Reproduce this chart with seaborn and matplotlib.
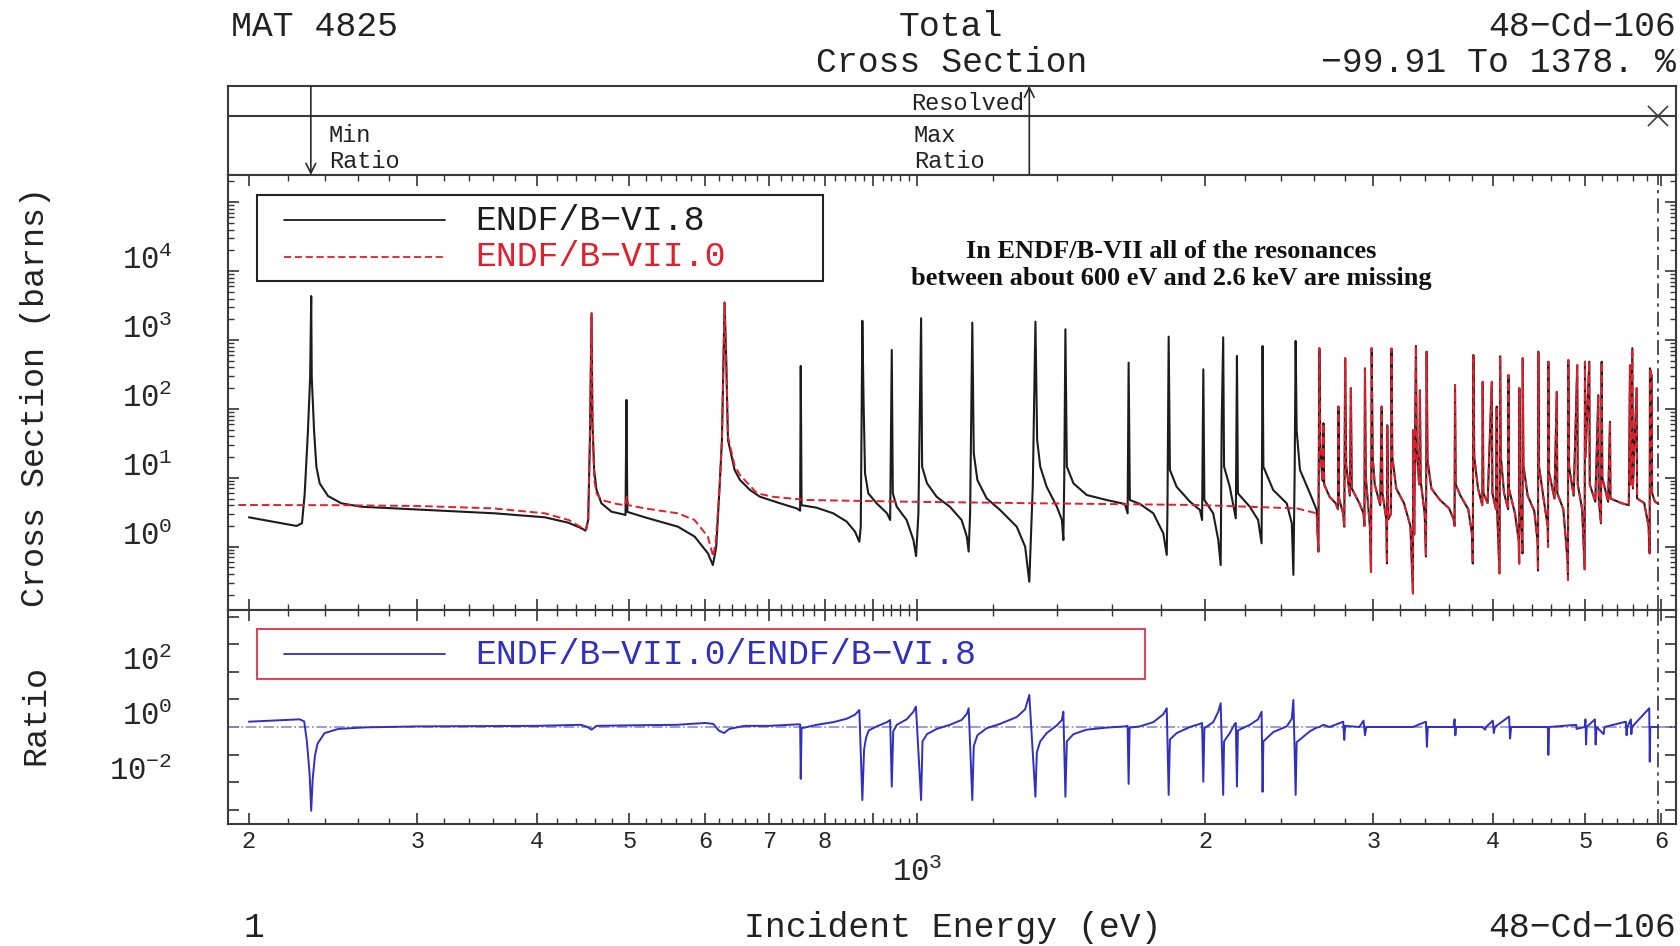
import matplotlib
matplotlib.use("Agg")
import matplotlib.pyplot as plt
import matplotlib.transforms as mtransforms
import seaborn as sns
from matplotlib.patches import Rectangle
from matplotlib.ticker import FixedLocator, NullFormatter, NullLocator, LogLocator

# ------------------------------------------------------------
# Values (energy in eV)
# ------------------------------------------------------------
# ENDF/B-VI.8 total cross section (barns), 200 eV - 2.6 keV
VI8_LOW = [(200, 2.67), (224.3, 2.0), (227.3, 2.19), (228.8, 5.96), (230.6, 49), (231.8, 290),
           (232.4, 4350), (232.7, 290), (234.0, 49), (235.3, 14.5), (237.2, 8.3), (242.0, 5.44),
           (249.9, 4.26), (262.3, 3.8), (308, 3.41), (361.6, 3.05), (408, 2.67), (431.6, 2.23),
           (445.6, 1.85), (449.9, 1.71), (452.8, 2.44), (454.7, 35), (456.5, 2440), (457.5, 62),
           (459.4, 13), (462, 6.65), (467.5, 4.26), (478.9, 3.22), (492.6, 2.95), (495.4, 2.88),
           (496.5, 135), (497.6, 3.2), (519, 2.67), (562.1, 1.95), (585.2, 1.4), (604.2, 0.8),
           (611.4, 0.54), (616.4, 1.0), (621.4, 7.4), (624.9, 35.5), (628.9, 3480), (631.4, 512),
           (634, 35.5), (644.3, 13), (652.6, 9.3), (669, 6.6)]

VI8_MID = [(685, 5.3), (719, 4.26), (748, 3.6), (754.4, 3.33), (755.5, 420), (757, 4.0), (785, 3.68),
           (817, 3.05), (844, 2.31), (861, 1.65), (870, 1.18), (873, 1.95), (876.3, 1900), (879, 120),
           (882, 11.6), (889, 5.95), (907, 4.26), (930, 3.05), (937, 2.44), (940.7, 716), (943, 5.95),
           (952, 3.8), (975, 2.44), (991, 1.25), (997.4, 0.73), (1003, 3.05), (1009.5, 2065),
           (1012, 14.5), (1024, 8.3), (1048, 5.3), (1082, 3.8), (1113, 2.44), (1127, 1.4),
           (1132, 0.85), (1136, 3.05), (1142, 1783), (1146, 22.7), (1156, 9.3), (1182, 5.04),
           (1221, 3.41), (1271, 1.95), (1297, 1.0), (1310, 0.31), (1321, 7.4), (1329.5, 1845),
           (1335, 35.5), (1345, 14.5), (1366, 7.4), (1400, 3.8), (1417, 2.44), (1422, 1.25),
           (1425, 9.3), (1429, 1430), (1434, 14.5), (1457, 8.3), (1504, 5.63), (1578, 4.76),
           (1649, 4.17), (1660, 3.05), (1664, 469), (1669, 4.76), (1710, 4.17), (1766, 3.05),
           (1809, 1.56), (1824, 0.76), (1827, 3.05), (1832.5, 1117), (1838, 13), (1868, 7.4),
           (1929, 4.5), (1976, 3.41), (1986, 2.44), (1992, 375), (1997, 4.76), (2040, 3.05),
           (2065, 1.25), (2077, 0.54), (2082, 62), (2089.6, 1094), (2094, 14.5), (2123, 7.4),
           (2149, 3.05), (2154, 2.58), (2160, 586), (2165, 5.95), (2228, 3.8), (2273, 2.44),
           (2292, 1.12), (2297.5, 818), (2302, 14.5), (2357, 6.65), (2435, 4.26), (2465, 2.18),
           (2474.5, 0.39), (2482, 11.6), (2488, 968), (2494, 49), (2514, 13), (2575, 5.95),
           (2617, 3.41)]

# ENDF/B-VII.0 total cross section (barns), 195 eV - 2.6 keV
VII0_LOW = [(195, 4.03), (250, 4.0), (300, 3.9), (360, 3.6), (408, 3.05), (432, 2.44), (447, 1.85),
            (451, 1.8), (452.8, 2.44), (454.7, 35), (456.5, 2440), (457.5, 62), (459.4, 9.3),
            (462, 5.95), (467.5, 4.76), (485, 4.17), (495, 4.0), (497, 5.3), (499, 4.0), (519, 3.6),
            (562, 3.05), (585, 2.44), (604, 1.4), (612, 0.72), (616, 1.3), (621.4, 7.4),
            (624.9, 35.5), (628.9, 3480), (631.4, 512), (634, 40), (644.3, 15), (652.6, 11),
            (665, 8.3), (680, 5.95), (707, 5.3), (766, 4.76), (975, 4.5), (1345, 4.26),
            (1960, 4.03), (2494, 3.6), (2617, 3.05)]

# above 2.6 keV both evaluations lie on top of each other
BOTH_HIGH = [(2628, 0.85), (2634, 760), (2640, 30), (2650, 12), (2656, 9), (2660, 62), (2665, 8),
             (2700, 5.3), (2740, 4.26), (2755, 3.5), (2758, 108), (2762, 5), (2790, 3.0),
             (2797, 1.95), (2803, 542), (2810, 15), (2835, 5.5), (2842, 200), (2848, 7),
             (2900, 4.3), (2930, 3.05), (2936, 2.0), (2940, 388), (2946, 10), (2975, 2.0),
             (2983, 0.43), (2988, 760), (2995, 20), (3010, 8), (3050, 4.0), (3061, 108), (3066, 6),
             (3095, 2.5), (3100, 0.57), (3102, 58), (3110, 2.5), (3130, 3.0), (3134, 750),
             (3140, 20), (3170, 7), (3230, 4.26), (3280, 2.0), (3300, 0.21), (3302, 49),
             (3310, 1.5), (3324, 818), (3330, 25), (3350, 8), (3356, 186), (3362, 9), (3395, 3.0),
             (3405, 0.72), (3411, 676), (3418, 18), (3450, 7), (3520, 4.8), (3600, 3.6),
             (3640, 2.5), (3648, 2.0), (3652, 222), (3658, 8), (3700, 5.5), (3770, 3.5),
             (3805, 1.5), (3812, 0.57), (3817, 605), (3825, 20), (3860, 7), (3900, 4.0),
             (3904, 247), (3910, 6), (3950, 4.3), (3990, 247), (3996, 6), (4030, 3.5), (4038, 108),
             (4043, 3.0), (4065, 0.41), (4071, 580), (4078, 20), (4110, 6), (4150, 3.5),
             (4153, 310), (4158, 7), (4220, 3.0), (4258, 1.2), (4262, 0.57), (4264, 200),
             (4270, 5), (4290, 1.5), (4296, 0.8), (4299, 542), (4306, 15), (4350, 5.5),
             (4420, 3.3), (4455, 1.2), (4460, 0.45), (4463, 676), (4470, 15), (4520, 5.0),
             (4565, 2.0), (4569, 1.0), (4572, 484), (4580, 12), (4640, 5.0), (4666, 177),
             (4672, 6), (4740, 3.5), (4790, 0.6), (4794, 0.33), (4797, 510), (4805, 15),
             (4860, 5.5), (4902, 430), (4908, 8), (4960, 3.5), (4990, 0.47), (4994, 484),
             (5000, 20), (5046, 484), (5052, 8), (5120, 4.5), (5157, 158), (5162, 5), (5190, 2.18),
             (5199, 484), (5207, 10), (5280, 4.5), (5304, 65), (5310, 5.0), (5450, 4.3),
             (5550, 4.0), (5566, 430), (5575, 8), (5597, 760), (5605, 7), (5656, 200), (5662, 5),
             (5760, 4.3), (5820, 2.0), (5836, 0.8), (5840, 388), (5864, 300), (5870, 6),
             (5910, 4.5), (5958, 4.2)]

# ratio ENDF/B-VII.0 / ENDF/B-VI.8
RATIO_LOW = [(200, 1.56), (215, 1.75), (226, 1.9), (228.5, 1.6), (230, 0.3), (231.5, 0.02),
             (232.4, 0.0009), (233.2, 0.012), (234.5, 0.09), (236, 0.25), (240, 0.6), (248, 0.85),
             (265, 0.97), (300, 1.05), (400, 1.1), (445, 1.2), (452, 1.0), (456.5, 0.8), (462, 1.1),
             (500, 1.15), (560, 1.2), (600, 1.4), (612, 1.3), (620, 0.75), (628, 0.6), (636, 0.85),
             (660, 1.1), (700, 1.1), (750, 1.25), (754.4, 1.25), (755.5, 0.013), (757, 0.9),
             (785, 1.2), (817, 1.5), (844, 2.0), (861, 2.8), (870, 4.15), (876.3, 0.0022),
             (880, 0.15), (884, 0.4), (890, 0.75), (907, 1.05), (930, 1.5), (937, 1.8),
             (940.7, 0.0068), (944, 0.7), (952, 1.2), (975, 1.9), (991, 3.6), (997, 5.5),
             (1009.5, 0.0022), (1013, 0.3), (1024, 0.55), (1048, 0.85), (1082, 1.2), (1113, 1.8),
             (1127, 3.0), (1132, 4.8), (1142, 0.0022), (1146, 0.2), (1156, 0.5), (1182, 0.9),
             (1221, 1.3), (1271, 2.3), (1297, 4.4), (1310, 14.6), (1329.5, 0.0029), (1334, 0.12),
             (1345, 0.3), (1366, 0.6), (1400, 1.15), (1417, 1.8), (1422, 3.6), (1429, 0.0029),
             (1434, 0.3), (1457, 0.55), (1504, 0.8), (1578, 0.95), (1649, 1.05), (1660, 1.1),
             (1664, 0.0085), (1668, 0.95), (1710, 1.05), (1766, 1.5), (1809, 2.9), (1824, 4.8),
             (1832.5, 0.0034), (1838, 0.35), (1868, 0.6), (1929, 1.0), (1976, 1.3), (1986, 1.4),
             (1992, 0.0102), (1997, 0.9), (2040, 1.5), (2065, 3.6), (2077, 7.3), (2089.6, 0.0034),
             (2094, 0.3), (2123, 0.6), (2149, 1.3), (2154, 1.4), (2160, 0.0068), (2165, 0.75),
             (2228, 1.2), (2273, 1.9), (2292, 3.6), (2297.5, 0.0044), (2302, 0.3), (2357, 0.65),
             (2435, 1.05), (2465, 2.0), (2474.5, 9.6), (2488, 0.0034), (2494, 0.28), (2514, 0.35),
             (2575, 0.7), (2617, 0.95)]

RATIO_HIGH = [(2634, 1.0), (2660, 1.2), (2700, 1.0), (2790, 1.56), (2797, 0.34), (2803, 1.1),
              (2900, 1.0), (2930, 1.7), (2940, 0.5), (2950, 1.0), (3050, 1.0), (3300, 1.0),
              (3405, 1.56), (3413, 0.19), (3420, 1.0), (3640, 1.0), (3648, 1.9), (3655, 0.5),
              (3662, 1.0), (3900, 1.0), (3926, 0.8), (3935, 1.0), (4000, 1.7), (4010, 0.6),
              (4020, 1.0), (4160, 2.4), (4170, 0.38), (4180, 1.0), (4560, 1.0), (4569, 0.8),
              (4572, 0.096), (4580, 1.0), (4890, 1.2), (4894, 0.85), (4990, 1.0), (5000, 1.9),
              (5007, 0.23), (5015, 1.0), (5115, 1.9), (5124, 0.23), (5135, 1.0), (5224, 0.55),
              (5235, 1.0), (5510, 1.56), (5520, 0.5), (5530, 1.0), (5578, 1.9), (5584, 0.55),
              (5592, 1.0), (5830, 4.8), (5837, 0.055), (5845, 1.0), (5958, 1.0)]

# markers of the header strip
MIN_RATIO_E = 232.2
MAX_RATIO_E = 1310
END_RESOLVED_E = 5958

# axis ticks
X_MAJOR = [200, 300, 400, 500, 600, 700, 800, 900, 1000, 2000, 3000, 4000, 5000, 6000]
X_LABELS = ['2', '3', '4', '5', '6', '7', '8', '', '', '2', '3', '4', '5', '6']
X_MINOR = [e for e in range(220, 1000, 20) if e % 100] + [e for e in range(1200, 6200, 200) if e % 1000]
XS_MAJOR = [1e-1, 1, 10, 100, 1e3, 1e4, 1e5]
XS_LABELS = ['', '$10^0$', '$10^1$', '$10^2$', '$10^3$', '$10^4$', '']
R_MAJOR = [1e-3, 1e-2, 1e-1, 1, 10, 100, 1e3, 1e4]
R_LABELS = ['', '$10^{-2}$', '', '$10^0$', '', '$10^2$', '', '']

BLACK = '#1c1c1c'
RED = '#e0202c'
BLUE = '#2f2fc0'
INK = '#222222'

W, H = 1681, 946


def fx(px):
    return px / W


def fy(py):
    return 1 - py / H


def xy(points):
    return [p[0] for p in points], [p[1] for p in points]


def main():
    sns.set_style("ticks")
    plt.rcParams['font.family'] = ['Liberation Mono', 'DejaVu Sans Mono']
    plt.rcParams['mathtext.fontset'] = 'custom'
    plt.rcParams['mathtext.rm'] = 'Liberation Mono'
    plt.rcParams['mathtext.it'] = 'Liberation Mono'
    plt.rcParams['mathtext.bf'] = 'Liberation Mono:bold'

    fig = plt.figure(figsize=(W / 100, H / 100), dpi=100)
    left, width = fx(228), (1676 - 228) / W
    head = fig.add_axes([left, fy(175), width, (175 - 85.8) / H])
    ax1 = fig.add_axes([left, fy(609.5), width, (609.5 - 175) / H])
    ax2 = fig.add_axes([left, fy(823.5), width, (823.5 - 609.5) / H])

    # curves
    e6, s6 = xy(VI8_LOW + VI8_MID + BOTH_HIGH)
    e7, s7 = xy(VII0_LOW + BOTH_HIGH)
    er, rr = xy(RATIO_LOW + RATIO_HIGH)
    sns.lineplot(x=e6, y=s6, ax=ax1, color=BLACK, lw=1.5, estimator=None, sort=False)
    sns.lineplot(x=e7, y=s7, ax=ax1, color=RED, lw=1.4, linestyle=(0, (4, 2)),
                 estimator=None, sort=False)
    ax2.axhline(1, color='#8c8cd0', lw=1.2, ls='-.', zorder=1)
    sns.lineplot(x=er, y=rr, ax=ax2, color=BLUE, lw=1.4, estimator=None, sort=False, zorder=2)
    for ax in (ax1, ax2):
        ax.axvline(END_RESOLVED_E, color='#333333', lw=1.2, ls=(0, (9, 3, 2, 3)))

    # axes, scales, ticks
    for ax in (head, ax1, ax2):
        ax.set_xscale('log')
        ax.set_xlim(190.2, 6218)
        for sp in ax.spines.values():
            sp.set_linewidth(1.5)
            sp.set_color('#3a3a3a')
    ax1.set_yscale('log')
    ax2.set_yscale('log')

    for ax in (ax1, ax2):
        ax.set_xticks(X_MAJOR)
        ax.set_xticklabels(X_LABELS)
        ax.xaxis.set_minor_locator(FixedLocator(X_MINOR))
        ax.xaxis.set_minor_formatter(NullFormatter())
        ax.tick_params(which='both', direction='in', top=True, right=True, color='#333333')
        ax.tick_params(which='major', length=8, width=1.2)
        ax.tick_params(which='minor', length=4, width=1)
        ax.tick_params(axis='y', pad=40, labelsize=22)
        ax.tick_params(axis='x', pad=5, labelsize=17)
        ax.set_xlabel('')
        ax.set_ylabel('')
    ax1.tick_params(axis='x', labelbottom=False)

    ax1.set_yticks(XS_MAJOR)
    ax1.set_yticklabels(XS_LABELS)
    ax1.yaxis.set_minor_locator(LogLocator(base=10, subs=range(2, 10), numticks=30))
    ax1.yaxis.set_minor_formatter(NullFormatter())
    ax1.set_ylim(0.1226, 2.48e5)
    ax2.set_yticks(R_MAJOR)
    ax2.set_yticklabels(R_LABELS)
    ax2.yaxis.set_minor_locator(NullLocator())
    ax2.set_ylim(3.1e-4, 1.87e4)
    # the "10" of each decade label sits a little above its tick
    shift = mtransforms.ScaledTranslation(0, -5 / 100, fig.dpi_scale_trans)
    for ax in (ax1, ax2):
        for lab in ax.get_yticklabels():
            lab.set_verticalalignment('bottom')
            lab.set_transform(lab.get_transform() + shift)
    ax2.text(1000, -0.23, '$10^3$', transform=ax2.get_xaxis_transform(),
             ha='center', va='center', fontsize=22)

    # header strip
    head.set_ylim(0, 1)
    head.set_xticks([])
    head.set_yticks([])
    head.xaxis.set_minor_locator(NullLocator())
    head.axhline(0.664, color='#3a3a3a', lw=1.5)
    trans = head.get_xaxis_transform()
    head.annotate('', xy=(MIN_RATIO_E, 0.0), xytext=(MIN_RATIO_E, 1.0), xycoords=trans,
                  textcoords=trans,
                  arrowprops=dict(arrowstyle='->,head_length=0.7,head_width=0.35', lw=1.2,
                                  color='#2a2a2a', shrinkA=0, shrinkB=0))
    head.annotate('', xy=(MAX_RATIO_E, 1.0), xytext=(MAX_RATIO_E, 0.0), xycoords=trans,
                  textcoords=trans,
                  arrowprops=dict(arrowstyle='->,head_length=0.7,head_width=0.35', lw=1.2,
                                  color='#2a2a2a', shrinkA=0, shrinkB=0))
    head.plot([END_RESOLVED_E], [0.664], marker='x', ms=15, mew=1.2, color='#3a3a3a', clip_on=False)

    hd = dict(fontsize=17, color=INK, va='center')
    fig.text(fx(1024), fy(103), 'Resolved', ha='right', **hd)
    fig.text(fx(329), fy(135), 'Min', ha='left', **hd)
    fig.text(fx(329), fy(161), 'Ratio', ha='left', **hd)
    fig.text(fx(914), fy(135), 'Max', ha='left', **hd)
    fig.text(fx(914), fy(161), 'Ratio', ha='left', **hd)

    # titles around the frame
    tt = dict(fontsize=25, color=INK, va='center')
    fig.text(fx(231), fy(27), 'MAT 4825', ha='left', **tt)
    fig.text(fx(951), fy(27), 'Total', ha='center', **tt)
    fig.text(fx(1676), fy(27), '48\u2212Cd\u2212106', ha='right', **tt)
    fig.text(fx(952), fy(62), 'Cross Section', ha='center', **tt)
    fig.text(fx(1676), fy(62), '\u221299.91 To 1378. %', ha='right', **tt)
    fig.text(fx(244), fy(927), '1', ha='left', **tt)
    fig.text(fx(953), fy(927), 'Incident Energy (eV)', ha='center', **tt)
    fig.text(fx(1676), fy(927), '48\u2212Cd\u2212106', ha='right', **tt)
    fig.text(fx(36), fy(397), 'Cross Section (barns)', rotation=90, ha='center', va='center',
             fontsize=24, color=INK)
    fig.text(fx(36), fy(715), 'Ratio', rotation=90, ha='center', va='center',
             fontsize=24, color=INK)

    # legend of the cross-section panel
    ax1.add_patch(Rectangle((0.02, 0.756), 0.391, 0.198, transform=ax1.transAxes, fill=False,
                            ec=INK, lw=1.5))
    ax1.plot([0.0387, 0.1499], [0.8964, 0.8964], transform=ax1.transAxes, color=BLACK, lw=1.3)
    ax1.plot([0.0387, 0.1499], [0.8113, 0.8113], transform=ax1.transAxes, color=RED, lw=1.3,
             ls=(0, (4, 2)))
    ax1.text(0.1706, 0.8964, 'ENDF/B\u2212VI.8', transform=ax1.transAxes, fontsize=25,
             color=BLACK, va='center')
    ax1.text(0.1706, 0.8113, 'ENDF/B\u2212VII.0', transform=ax1.transAxes, fontsize=25,
             color=RED, va='center')

    # note on missing resonances
    nt = dict(ha='center', va='center', fontsize=19, fontweight='bold', family='Liberation Serif',
              color='#111111')
    fig.text(fx(1171), fy(252), 'In ENDF/B-VII all of the resonances', **nt)
    fig.text(fx(1171), fy(279), 'between about 600 eV and 2.6 keV are missing', **nt)

    # legend of the ratio panel
    ax2.add_patch(Rectangle((0.02, 0.675), 0.613, 0.234, transform=ax2.transAxes, fill=False,
                            ec='#d84a5a', lw=1.5))
    ax2.plot([0.0387, 0.1499], [0.792, 0.792], transform=ax2.transAxes, color=BLUE, lw=1.3)
    ax2.text(0.1706, 0.792, 'ENDF/B\u2212VII.0/ENDF/B\u2212VI.8', transform=ax2.transAxes,
             fontsize=25, color=BLUE, va='center')

    fig.savefig('out.png', dpi=100)
    plt.close(fig)


if __name__ == "__main__":
    main()
